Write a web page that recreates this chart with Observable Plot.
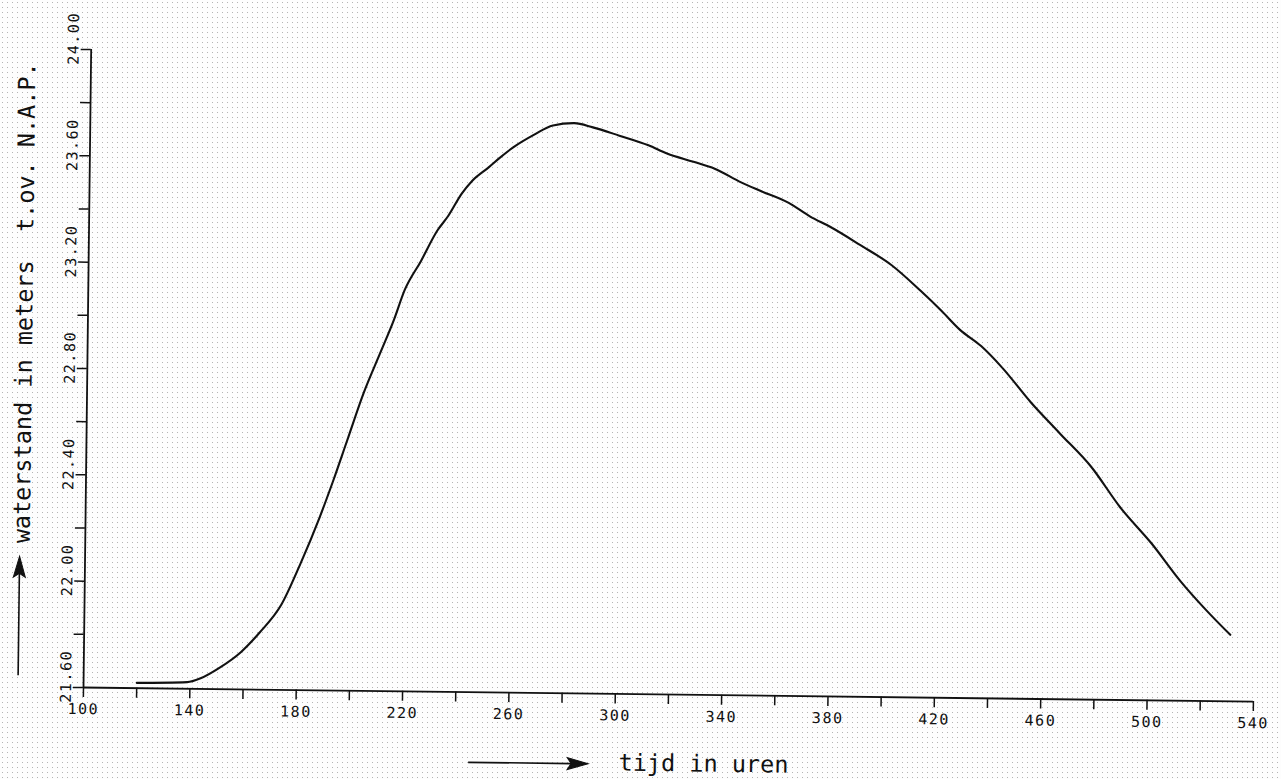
<!DOCTYPE html>
<html>
<head>
<meta charset="utf-8">
<script src="https://cdn.jsdelivr.net/npm/d3@7"></script>
<script src="https://cdn.jsdelivr.net/npm/@observablehq/plot@0.6"></script>
<style>
  html, body { margin: 0; padding: 0; }
  body {
    width: 1281px; height: 779px; overflow: hidden;
    background-color: #fdfdfd;
    background-image: radial-gradient(circle, #b4b4b4 0.55px, transparent 0.85px);
    background-size: 5px 5px;
  }
  #chart svg { display: block; transform: rotate(0.69deg); transform-origin: 83px 687px; }
</style>
</head>
<body>
<div id="chart"></div>
<script>
// Time in hours (tijd in uren)
const hours = [120, 139, 144, 151, 159, 166, 174, 181, 188, 193, 198, 204, 210, 215, 219, 225, 231, 235, 240, 244,
               250, 254, 259, 267, 274, 282, 289, 299, 310, 317, 327, 335, 345, 352, 363, 371, 379, 390, 402, 413,
               421, 428, 436, 444, 455, 466, 478, 489, 501, 512, 522, 531];
// Water level in metres relative to N.A.P.
const levels = [21.62, 21.625, 21.64, 21.68, 21.74, 21.815, 21.92, 22.075, 22.25, 22.39, 22.54, 22.72, 22.87, 22.995, 23.11, 23.22, 23.335, 23.39, 23.475, 23.525,
                23.575, 23.61, 23.65, 23.70, 23.735, 23.745, 23.73, 23.70, 23.665, 23.635, 23.605, 23.58, 23.53, 23.50, 23.455, 23.405, 23.365, 23.30, 23.225, 23.13,
                23.055, 22.985, 22.925, 22.845, 22.715, 22.60, 22.475, 22.325, 22.19, 22.05, 21.94, 21.85];

const xTicks = [100, 120, 140, 160, 180, 200, 220, 240, 260, 280, 300, 320, 340, 360, 380, 400, 420, 440, 460, 480, 500, 520, 540];
const xTickLabels = [100, 140, 180, 220, 260, 300, 340, 380, 420, 460, 500, 540];
const yTicks = [21.6, 21.8, 22.0, 22.2, 22.4, 22.6, 22.8, 23.0, 23.2, 23.4, 23.6, 23.8, 24.0];
const yTickLabels = [21.6, 22.0, 22.4, 22.8, 23.2, 23.6, 24.0];

const yTitle = "waterstand in meters  t.ov. N.A.P.";
const xTitle = "tijd in uren";

const data = hours.map((h, i) => ({h, v: levels[i]}));

const W = 1281, H = 779;
const mL = 83, mR = 28, mT = 49, mB = 92;
const ink = "#111";

const chart = Plot.plot({
  width: W, height: H,
  marginLeft: mL, marginRight: mR, marginTop: mT, marginBottom: mB,
  style: {background: "transparent", color: ink, fontFamily: "'DejaVu Sans Mono', monospace", fontSize: "15px", overflow: "visible"},
  x: {domain: [100, 540], axis: null},
  y: {domain: [21.6, 24.0], axis: null},
  marks: [
    Plot.axisX(xTicks, {tickSize: 10, tickFormat: () => "", strokeWidth: 1.5, label: null}),
    Plot.axisX(xTickLabels, {tickSize: 0, tickPadding: 16, fontSize: 15, label: null}),
    Plot.axisY(yTicks, {tickSize: 10, tickFormat: () => "", strokeWidth: 1.5, label: null}),
    Plot.text(yTickLabels, {y: d => d, text: d => d.toFixed(2), frameAnchor: "left", rotate: -90,
      textAnchor: "middle", lineAnchor: "bottom", dx: -12.5, dy: -11, fontSize: 15}),
    Plot.ruleY([21.6], {stroke: ink, strokeWidth: 1.8}),
    Plot.ruleX([100], {stroke: ink, strokeWidth: 1.8}),
    Plot.line(data, {x: "h", y: "v", stroke: ink, strokeWidth: 2.1, curve: "monotone-x"}),
    Plot.text([yTitle], {text: d => d, frameAnchor: "left", rotate: -90, textAnchor: "middle", lineAnchor: "bottom",
      dx: -55.6, dy: -65, fontSize: 23.5}),
    Plot.text([xTitle], {text: d => d, frameAnchor: "bottom", textAnchor: "start", lineAnchor: "bottom",
      dx: -49, dy: 76.6, fontSize: 23.5})
  ]
});

const svg = d3.select(chart);
svg.selectAll("text").style("white-space", "pre").each(function () {
  if (/^[\d.]+$/.test(this.textContent.trim())) d3.select(this).style("letter-spacing", "1.5px");
});

// Decorative axis-title arrows (pixel space, relative to margins)
const arrows = svg.append("g").attr("fill", ink).attr("stroke", ink);
function arrow(x1, y1, x2, y2) {
  const a = Math.atan2(y2 - y1, x2 - x1), L = 21, hw = 6;
  const bx = x2 - L * Math.cos(a), by = y2 - L * Math.sin(a);
  const nx = -Math.sin(a), ny = Math.cos(a);
  const mx = x2 - (L - 4) * Math.cos(a), my = y2 - (L - 4) * Math.sin(a);
  arrows.append("line").attr("x1", x1).attr("y1", y1).attr("x2", mx).attr("y2", my).attr("stroke-width", 1.6);
  arrows.append("path").attr("stroke-width", 1)
    .attr("d", `M${x2},${y2}L${bx + nx * hw},${by + ny * hw}L${mx},${my}L${bx - nx * hw},${by - ny * hw}Z`);
}
arrow(mL - 65, H - mB - 11, mL - 65, H - mB - 130);
arrow(mL + 386, H - mB + 70.7, mL + 506, H - mB + 70.7);

document.getElementById("chart").appendChild(chart);
</script>
</body>
</html>
